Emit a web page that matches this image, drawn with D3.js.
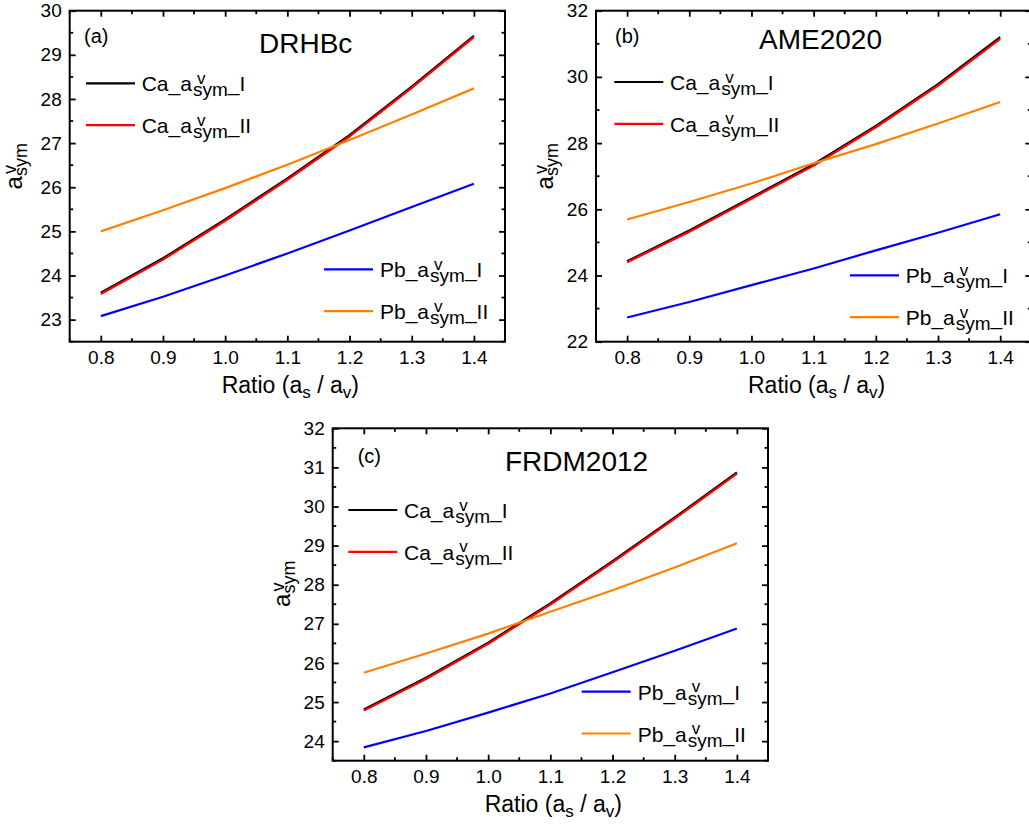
<!DOCTYPE html>
<html>
<head>
<meta charset="utf-8">
<script src="https://cdn.jsdelivr.net/npm/d3@7"></script>
<style>
  body { margin: 0; background: #fff; }
  svg { display: block; font-family: "Liberation Sans", Arial, sans-serif; }
  text { white-space: pre; }
</style>
</head>
<body>
<svg id="chart" width="1029" height="824"></svg>
<script>
// DATA
const ratios = [0.8, 0.9, 1.0, 1.1, 1.2, 1.3, 1.4];
const xTicks = [0.8, 0.9, 1.0, 1.1, 1.2, 1.3, 1.4];

// (a) DRHBc
const drhbcCaI  = [23.61, 24.39, 25.27, 26.20, 27.18, 28.28, 29.43];
const drhbcCaII = [23.58, 24.36, 25.24, 26.17, 27.15, 28.25, 29.40];
const drhbcPbI  = [23.08, 23.52, 24.00, 24.50, 25.02, 25.55, 26.08];
const drhbcPbII = [25.00, 25.48, 25.98, 26.51, 27.07, 27.65, 28.24];
const drhbcYTicks = [23, 24, 25, 26, 27, 28, 29, 30];

// (b) AME2020
const ameCaI  = [24.43, 25.36, 26.36, 27.36, 28.52, 29.78, 31.20];
const ameCaII = [24.40, 25.32, 26.32, 27.32, 28.48, 29.74, 31.15];
const amePbI  = [22.73, 23.20, 23.71, 24.21, 24.76, 25.29, 25.85];
const amePbII = [25.69, 26.22, 26.78, 27.39, 27.97, 28.59, 29.24];
const ameYTicks = [22, 24, 26, 28, 30, 32];

// (c) FRDM2012
const frdmCaI  = [24.81, 25.62, 26.52, 27.52, 28.60, 29.72, 30.87];
const frdmCaII = [24.78, 25.59, 26.49, 27.49, 28.57, 29.69, 30.84];
const frdmPbI  = [23.84, 24.26, 24.73, 25.22, 25.76, 26.31, 26.88];
const frdmPbII = [25.75, 26.24, 26.75, 27.31, 27.86, 28.44, 29.06];
const frdmYTicks = [24, 25, 26, 27, 28, 29, 30, 31, 32];

const seriesPrefix = ["Ca_a", "Ca_a", "Pb_a", "Pb_a"];
const seriesSuffix = ["_I", "_II", "_I", "_II"];
const seriesColors = ["#000000", "#ff0000", "#0000ff", "#ff8000"];

const panels = [
  { tag: "(a)", title: "DRHBc", yDomain: [22.5, 30], yTicks: drhbcYTicks, yMinorStep: 0.5,
    series: [drhbcCaI, drhbcCaII, drhbcPbI, drhbcPbII],
    left: 69.7, top: 10.7, height: 331,
    tagPos: [14.3, 32.5], titlePos: [189.3, 42.3], yLabelX: -47.2,
    caLeg: [16.3, 72.6, 72], pbLeg: [254.3, 258.6, 310.3] },
  { tag: "(b)", title: "AME2020", yDomain: [22, 32], yTicks: ameYTicks, yMinorStep: 1,
    series: [ameCaI, ameCaII, amePbI, amePbII],
    left: 596, top: 10.7, height: 331,
    tagPos: [19, 32.5], titlePos: [163, 38.8], yLabelX: -43,
    caLeg: [18.3, 71.3, 74], pbLeg: [254, 264.6, 309.7] },
  { tag: "(c)", title: "FRDM2012", yDomain: [23.5, 32], yTicks: frdmYTicks, yMinorStep: 0.5,
    series: [frdmCaI, frdmCaII, frdmPbI, frdmPbII],
    left: 332.7, top: 428.3, height: 332.4,
    tagPos: [25, 34.7], titlePos: [172.3, 43.2], yLabelX: -42.7,
    caLeg: [15.6, 81.7, 71.3], pbLeg: [249, 263.4, 305] }
];

const svg = d3.select("#chart");
svg.append("rect").attr("width", 1029).attr("height", 824).attr("fill", "#fff");

const plotW = 435.3;
const legRowGap = 41.8;

// one <text> with tspans for sub/superscripts; a "stack" piece shares its x with the next one
function richText(parent, segs) {
  const t = parent.append("text").attr("fill", "#000");
  let cx = 0, stackX = null, stackW = 0;
  segs.forEach(s => {
    const ts = t.append("tspan")
      .attr("x", (stackX !== null ? stackX : cx) + (s.dx || 0))
      .attr("y", s.shift || 0)
      .style("font-size", s.size + "px")
      .text(s.t);
    const w = ts.node().getComputedTextLength() + (s.dx || 0);
    if (s.stack) { stackX = cx; stackW = w; }
    else if (stackX !== null) { cx = stackX + Math.max(w, stackW); stackX = null; }
    else cx += w;
  });
  t.width = cx;
  return t;
}

function legendSegs(i) {
  return [
    { t: seriesPrefix[i], size: 21 },
    { t: "v", size: 17, shift: -7.5, stack: true, dx: 5 },
    { t: "sym", size: 19, shift: 5, dx: 1 },
    { t: seriesSuffix[i], size: 21 }
  ];
}

panels.forEach(p => {
  const g = svg.append("g").attr("transform", `translate(${p.left},${p.top})`);
  const h = p.height;

  const x = d3.scaleLinear().domain([0.75, 1.45]).range([0, plotW]);
  const y = d3.scaleLinear().domain(p.yDomain).range([h, 0]);

  const xMinor = d3.range(0.75, 1.46, 0.1);
  const yMinor = d3.range(p.yDomain[0], p.yDomain[1] + 0.001, p.yMinorStep)
    .filter(v => !p.yTicks.includes(v));

  // minor ticks (all four sides)
  const minor = g.append("g").attr("stroke", "#000").attr("stroke-width", 1.8);
  xMinor.forEach(v => {
    minor.append("line").attr("x1", x(v)).attr("x2", x(v)).attr("y1", h).attr("y2", h - 3.5);
    minor.append("line").attr("x1", x(v)).attr("x2", x(v)).attr("y1", 0).attr("y2", 3.5);
  });
  yMinor.forEach(v => {
    minor.append("line").attr("x1", 0).attr("x2", 3.5).attr("y1", y(v)).attr("y2", y(v));
    minor.append("line").attr("x1", plotW).attr("x2", plotW - 3.5).attr("y1", y(v)).attr("y2", y(v));
  });

  // major ticks via axes
  const axes = [
    g.append("g").attr("transform", `translate(0,${h})`)
      .call(d3.axisBottom(x).tickValues(xTicks).tickSize(-6).tickPadding(9).tickFormat(d3.format(".1f"))),
    g.append("g")
      .call(d3.axisTop(x).tickValues(xTicks).tickSize(-6).tickFormat("")),
    g.append("g")
      .call(d3.axisLeft(y).tickValues(p.yTicks).tickSize(-6).tickPadding(8).tickFormat(d3.format("d"))),
    g.append("g").attr("transform", `translate(${plotW},0)`)
      .call(d3.axisRight(y).tickValues(p.yTicks).tickSize(-6).tickFormat(""))
  ];
  axes.forEach(a => {
    a.select(".domain").remove();
    a.selectAll(".tick line").attr("stroke-width", 1.8);
    a.selectAll(".tick text")
      .style("font-family", "'Liberation Sans', Arial, sans-serif")
      .style("font-size", "19px").attr("fill", "#000");
  });

  // curves
  const line = d3.line().x((d, i) => x(ratios[i])).y(d => y(d));
  p.series.forEach((vals, i) => {
    g.append("path").datum(vals)
      .attr("fill", "none")
      .attr("stroke", seriesColors[i])
      .attr("stroke-width", 2.2)
      .attr("stroke-linejoin", "round")
      .attr("d", line);
  });

  // frame
  g.append("rect").attr("width", plotW).attr("height", h)
    .attr("fill", "none").attr("stroke", "#000").attr("stroke-width", 2);

  // tag + title
  g.append("text").attr("x", p.tagPos[0]).attr("y", p.tagPos[1])
    .style("font-size", "20px").text(p.tag);
  g.append("text").attr("x", p.titlePos[0]).attr("y", p.titlePos[1])
    .style("font-size", "28px").text(p.title);

  // legends
  [[0, 1, p.caLeg], [2, 3, p.pbLeg]].forEach(([a, b, pos]) => {
    [a, b].forEach((si, k) => {
      const ly = pos[1] + k * legRowGap;
      g.append("line").attr("x1", pos[0]).attr("x2", pos[0] + 49)
        .attr("y1", ly).attr("y2", ly)
        .attr("stroke", seriesColors[si]).attr("stroke-width", 2.2);
      richText(g, legendSegs(si)).attr("transform", `translate(${pos[2]},${ly + 8})`);
    });
  });

  // x axis title
  richText(g, [
    { t: "Ratio (a", size: 23 },
    { t: "s", size: 17, shift: 5 },
    { t: " / a", size: 23 },
    { t: "v", size: 17, shift: 5 },
    { t: ")", size: 23 }
  ]).attr("transform", `translate(152,${h + 51.3})`);

  // y axis title (rotated)
  const yl = g.append("g").attr("transform", `translate(${p.yLabelX},${155.5}) rotate(-90)`);
  const yt = richText(yl, [
    { t: "a", size: 24 },
    { t: "v", size: 18, shift: -6.5, stack: true, dx: 2 },
    { t: "sym", size: 18, shift: 4.5 }
  ]);
  yt.attr("transform", `translate(${-yt.width / 2},0)`);
});
</script>
</body>
</html>
